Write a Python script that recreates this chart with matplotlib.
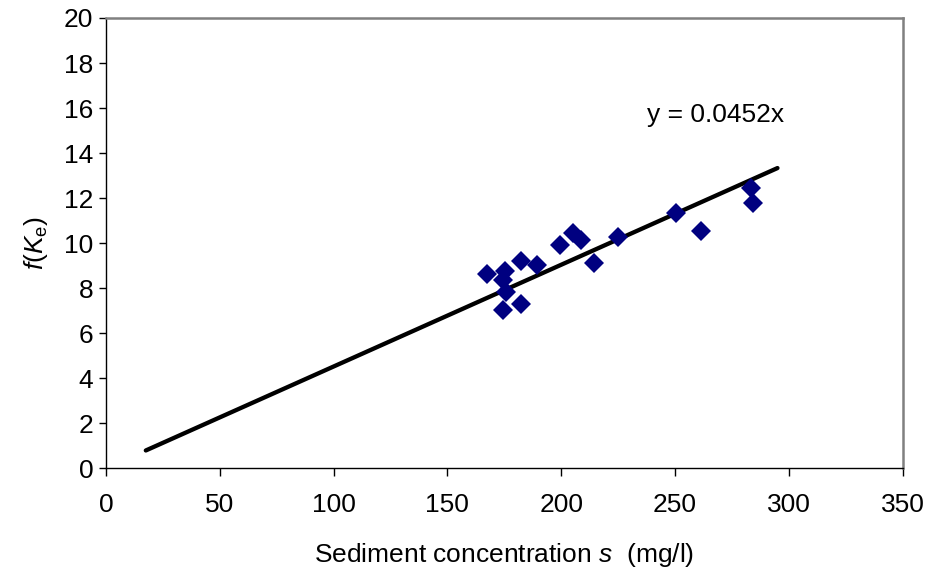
import numpy as np
import matplotlib
matplotlib.use("Agg")
import matplotlib.pyplot as plt

plt.rcParams['font.family'] = ['Liberation Sans', 'DejaVu Sans']
plt.rcParams['mathtext.fontset'] = 'custom'
plt.rcParams['mathtext.rm'] = 'Liberation Sans'
plt.rcParams['mathtext.it'] = 'Liberation Sans:italic'

# measured points
conc = [167.2, 175.3, 174.3, 175.7, 174.3, 182.3, 182.3, 189.5, 199.4,
        205.3, 208.5, 214.3, 225.1, 250.3, 261.3, 283.2, 284.2]
fke = [8.61, 8.76, 8.36, 7.84, 7.05, 7.29, 9.21, 9.04, 9.91,
       10.46, 10.16, 9.12, 10.27, 11.32, 10.55, 12.43, 11.79]

# fitted line y = slope * x
slope = 0.0452
fit_x = [17.5, 295.0]

fig = plt.figure(figsize=(9.28, 5.71), dpi=100)
ax = fig.add_axes([0.1142, 0.1799, 0.8585, 0.7886])

fx = np.array(fit_x)
ax.plot(fx, slope * fx, color='black', lw=3.1, solid_capstyle='round', zorder=2)
ax.plot(conc, fke, linestyle='none', marker='D', ms=9.8, color='#000080',
        markeredgewidth=0, zorder=3)

ax.text(267.6, 15.7, 'y = 0.0452x', fontsize=19, ha='center', va='center')

ax.set_xlim(0, 350)
ax.set_ylim(0, 20)
ax.set_xticks(range(0, 351, 50))
ax.set_yticks(range(0, 21, 2))

for side in ['top', 'right']:
    ax.spines[side].set_color('#808080')
    ax.spines[side].set_linewidth(1.8)
for side in ['left', 'bottom']:
    ax.spines[side].set_color('black')
    ax.spines[side].set_linewidth(1.0)

ax.tick_params(axis='x', direction='out', length=6, width=1, labelsize=19, pad=12)
ax.tick_params(axis='y', direction='out', length=5, width=1, labelsize=19, pad=4)

ax.set_xlabel('Sediment concentration $s$  (mg/l)', fontsize=19, labelpad=17)
ax.set_ylabel(r'$f(K_\mathrm{e})$', fontsize=19, labelpad=10)

fig.savefig('out.png', dpi=100)
